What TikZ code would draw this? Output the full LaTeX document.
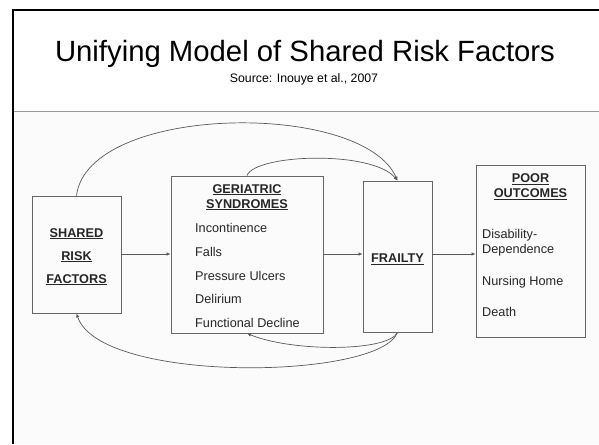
\documentclass[tikz,border=0pt]{standalone}
\usepackage{fontspec}
\setmainfont{Liberation Sans}
\usetikzlibrary{arrows.meta,calc}
\begin{document}
\begin{tikzpicture}[x=1pt,y=-1pt,
  box/.style={draw=black!60,line width=0.8pt,inner sep=0pt},
  conn/.style={draw=black!65,line width=0.7pt,-{Latex[length=4pt,width=3.5pt]}},
  txt/.style={font=\fontsize{12.7}{15}\selectfont,text=black!85,inner sep=0pt,anchor=base},
  hdr/.style={txt,font=\fontsize{12.7}{15}\selectfont\bfseries},
  item/.style={txt,anchor=base west}]
\useasboundingbox (0,0) rectangle (599,444);
\fill[white] (0,0) rectangle (599,444);
\fill[black!1.5] (13,111) rectangle (599,444);
% frame
\draw[black,line width=2pt] (12.5,444) -- (12.5,10.5) -- (599,10.5);
\draw[black!40,line width=1pt] (13.5,111) -- (599,111);
% title
\node[inner sep=0pt,anchor=base,font=\fontsize{29.3}{34}\selectfont] (title) at (305,62) {Unifying Model of Shared Risk Factors};
\node[inner sep=0pt,anchor=base,font=\fontsize{12.3}{14}\selectfont] (source) at (304,82) {Source: Inouye et al., 2007};
% boxes
\node[box,minimum width=89pt,minimum height=117pt] (srf) at (76.5,254.5) {};
\node[box,minimum width=152pt,minimum height=157pt] (geri) at (247,254.5) {};
\node[box,minimum width=69pt,minimum height=151pt] (frail) at (397.5,256.5) {};
\node[box,minimum width=109pt,minimum height=172pt] (poor) at (530.5,251) {};
% SRF text
\node[hdr] (srf1) at (76.5,237) {\underline{SHARED}};
\node[hdr] (srf2) at (76.5,260) {\underline{RISK}};
\node[hdr] (srf3) at (76.5,283) {\underline{FACTORS}};
% geri text
\node[hdr] (g1) at (247,193) {\underline{GERIATRIC}};
\node[hdr] (g2) at (247,208) {\underline{SYNDROMES}};
\node[item] (g3) at (195,232) {Incontinence};
\node[item] (g4) at (195,256.5) {Falls};
\node[item] (g5) at (195,280) {Pressure Ulcers};
\node[item] (g6) at (195,303) {Delirium};
\node[item] (g7) at (195,327) {Functional Decline};
% frailty
\node[hdr] (f1) at (397.5,262.5) {\underline{FRAILTY}};
% poor
\node[hdr] (p1) at (530.5,182.5) {\underline{POOR}};
\node[hdr] (p2) at (530.5,197.5) {\underline{OUTCOMES}};
\node[item] (p3) at (482,238) {Disability-};
\node[item] (p4) at (482,253.5) {Dependence};
\node[item] (p5) at (482,285.5) {Nursing Home};
\node[item] (p6) at (482,316.5) {Death};
% straight connectors
\draw[conn] (srf.east |- 0,254) -- (geri.west |- 0,254);
\draw[conn] (geri.east |- 0,254) -- (frail.west |- 0,254);
\draw[conn] (frail.east |- 0,254) -- (poor.west |- 0,254);
% curved connectors
\draw[conn] (srf.north) .. controls (88,104) and (362,100) .. (frail.north);
\draw[conn] (geri.north) .. controls (255,154) and (372,150) .. (frail.north);
\draw[conn] (frail.south) .. controls (388,352) and (292,352) .. (geri.south);
\draw[conn] (frail.south) .. controls (380,380) and (100,384) .. (srf.south);
\end{tikzpicture}
\end{document}
